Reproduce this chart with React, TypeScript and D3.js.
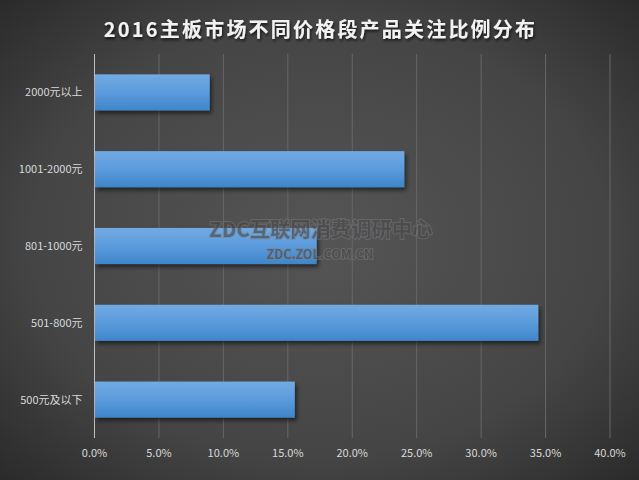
import * as d3 from 'd3';
import React from 'react';

const categories = ['2000元以上', '1001-2000元', '801-1000元', '501-800元', '500元及以下'];
const shares = [8.9, 24.0, 17.2, 34.4, 15.5];
const xTicks = [0, 5, 10, 15, 20, 25, 30, 35, 40];

const W = 639;
const H = 480;
const margin = { top: 54, right: 29, bottom: 42, left: 94.5 };

export default function App() {
  const innerW = W - margin.left - margin.right;
  const innerH = H - margin.top - margin.bottom;

  const x = d3.scaleLinear().domain([0, 40]).range([0, innerW]);
  const y = d3.scaleBand().domain(categories).range([0, innerH]).paddingInner(0.53).paddingOuter(0.265);

  const font = '"Microsoft YaHei", "Noto Sans CJK SC", "DejaVu Sans", sans-serif';

  return (
    <svg width={W} height={H} style={{ position: 'absolute', left: 0, top: 0, display: 'block' }}>
      <defs>
        <radialGradient id="bg" cx="50%" cy="50%" r="75%">
          <stop offset="0%" stopColor="#555555" />
          <stop offset="60%" stopColor="#454545" />
          <stop offset="100%" stopColor="#262626" />
        </radialGradient>
        <linearGradient id="bar" x1="0" y1="0" x2="0" y2="1">
          <stop offset="0%" stopColor="#72aae2" />
          <stop offset="50%" stopColor="#5b9bdc" />
          <stop offset="100%" stopColor="#3f85ca" />
        </linearGradient>
        <filter id="shadow" x="-5%" y="-20%" width="115%" height="160%">
          <feDropShadow dx="2" dy="3" stdDeviation="2" floodColor="#000" floodOpacity="0.55" />
        </filter>
        <filter id="tshadow" x="-5%" y="-30%" width="110%" height="170%">
          <feDropShadow dx="1" dy="2" stdDeviation="1.5" floodColor="#000" floodOpacity="0.7" />
        </filter>
        <filter id="soft" x="-5%" y="-30%" width="110%" height="160%">
          <feGaussianBlur stdDeviation="0.5" />
        </filter>
      </defs>
      <rect width={W} height={H} fill="url(#bg)" />

      <text
        x={W / 2 + 1}
        y={37}
        textAnchor="middle"
        fill="#f2f2f2"
        fontFamily={font}
        fontWeight="bold"
        fontSize={20}
        letterSpacing={2.2}
        filter="url(#tshadow)"
      >
        2016主板市场不同价格段产品关注比例分布
      </text>

      <g transform={`translate(${margin.left},${margin.top})`}>
        {xTicks.map((t) => (
          <line key={t} x1={x(t)} x2={x(t)} y1={0} y2={innerH} stroke="#676767" strokeWidth={1} />
        ))}
        <line x1={0} x2={0} y1={0} y2={innerH} stroke="#bfbfbf" strokeWidth={1} />

        {xTicks.map((t) => (
          <text
            key={t}
            x={x(t)}
            y={innerH + 19}
            textAnchor="middle"
            fill="#d9d9d9"
            fontFamily={font}
            fontSize={11}
          >
            {t.toFixed(1)}%
          </text>
        ))}

        {categories.map((c, i) => (
          <g key={c}>
            <rect
              x={0.5}
              y={y(c)!}
              width={x(shares[i])}
              height={y.bandwidth()}
              fill="url(#bar)"
              filter="url(#shadow)"
            />
            <text
              x={-12}
              y={y(c)! + y.bandwidth() / 2 + 4}
              textAnchor="end"
              fill="#d9d9d9"
              fontFamily={font}
              fontSize={11}
            >
              {c}
            </text>
          </g>
        ))}
      </g>

      <g
        fontFamily={font}
        fontWeight="bold"
        fill="rgba(55,55,60,0.5)"
        stroke="rgba(125,125,125,0.45)"
        strokeWidth={2.2}
        paintOrder="stroke"
        filter="url(#soft)"
      >
        <text x={321} y={237} textAnchor="middle" fontSize={20} letterSpacing={0.3}>
          ZDC互联网消费调研中心
        </text>
        <text x={320} y={259} textAnchor="middle" fontSize={12.5}>
          ZDC.ZOL.COM.CN
        </text>
      </g>
    </svg>
  );
}
